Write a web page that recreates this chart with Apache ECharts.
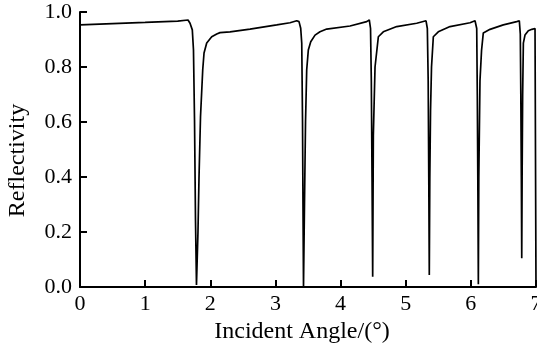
<!DOCTYPE html>
<html>
<head>
<meta charset="utf-8">
<script src="https://cdn.jsdelivr.net/npm/echarts@6/dist/echarts.min.js"></script>
<style>
  html, body { margin: 0; padding: 0; background: #fff; }
  #chart { width: 537px; height: 347px; }
</style>
</head>
<body>
<div id="chart"></div>
<script>
// incident angle (deg)
const angles = [
  0, 0.5, 1.0, 1.5, 1.658,
  1.689, 1.724, 1.742, 1.758, 1.773, 1.788, 1.811, 1.827, 1.850, 1.884, 1.904, 1.945, 2.022, 2.099, 2.149,
  2.303, 2.610, 3.020, 3.224, 3.327,
  3.362, 3.388, 3.404, 3.416, 3.423, 3.431, 3.446, 3.462, 3.480, 3.505, 3.542, 3.608, 3.684, 3.787,
  4.145, 4.401, 4.441,
  4.460, 4.472, 4.483, 4.493, 4.503, 4.529, 4.580, 4.656, 4.862, 5.169, 5.312,
  5.332, 5.345, 5.354, 5.362, 5.370, 5.381, 5.396, 5.424, 5.500, 5.680, 5.987, 6.064,
  6.090, 6.099, 6.108, 6.115, 6.122, 6.140, 6.164, 6.191, 6.294, 6.498, 6.704, 6.744,
  6.759, 6.767, 6.775, 6.781, 6.787, 6.795, 6.806, 6.831, 6.882, 6.937, 6.985, 7.0
];

const reflectivity = [
  0.953, 0.958, 0.962, 0.967, 0.971,
  0.959, 0.935, 0.862, 0.607, 0.244, 0.007, 0.20, 0.40, 0.62, 0.79, 0.851, 0.887, 0.910, 0.920, 0.925,
  0.928, 0.938, 0.953, 0.961, 0.968,
  0.965, 0.941, 0.887, 0.60, 0.30, 0.0, 0.30, 0.60, 0.789, 0.862, 0.892, 0.916, 0.928, 0.938,
  0.949, 0.965, 0.971,
  0.94, 0.75, 0.40, 0.037, 0.55, 0.80, 0.91, 0.928, 0.947, 0.959, 0.968,
  0.94, 0.75, 0.40, 0.044, 0.40, 0.64, 0.80, 0.91, 0.928, 0.947, 0.961, 0.968,
  0.94, 0.70, 0.35, 0.01, 0.40, 0.75, 0.86, 0.924, 0.937, 0.953, 0.965, 0.968,
  0.92, 0.70, 0.40, 0.105, 0.40, 0.70, 0.887, 0.916, 0.932, 0.937, 0.94, 0.0
];

const xTicks = [0, 1, 2, 3, 4, 5, 6, 7];
const yTicks = [0.0, 0.2, 0.4, 0.6, 0.8, 1.0];

const FONT = 'Liberation Serif';

function makeChart() {
  const chart = echarts.init(document.getElementById('chart'), null, { renderer: 'canvas' });

  const points = angles.map((a, i) => [a, reflectivity[i]]);

  const axisCommon = {
    axisLine: { show: true, lineStyle: { color: '#000', width: 2 } },
    axisTick: { show: true, inside: true, length: 7, lineStyle: { color: '#000', width: 2 } },
    splitLine: { show: false },
    axisLabel: { color: '#000', fontFamily: FONT, fontSize: 22, margin: 6 },
    nameTextStyle: { color: '#000', fontFamily: FONT, fontSize: 24 }
  };

  const option = {
    animation: false,
    backgroundColor: '#fff',
    grid: {
      left: 80, right: 1, top: 12, bottom: 60,
      containLabel: false,
      outerBoundsMode: 'none'
    },
    xAxis: Object.assign({}, axisCommon, {
      type: 'value',
      min: xTicks[0],
      max: xTicks[xTicks.length - 1],
      interval: 1,
      name: 'Incident Angle/(°)',
      nameLocation: 'middle',
      nameGap: 23,
      nameTextStyle: Object.assign({}, axisCommon.nameTextStyle, { padding: [0, 12, 0, 0] }),
      axisLabel: Object.assign({}, axisCommon.axisLabel, {
        showMaxLabel: true,
        formatter: v => String(v)
      })
    }),
    yAxis: Object.assign({}, axisCommon, {
      type: 'value',
      min: yTicks[0],
      max: yTicks[yTicks.length - 1],
      interval: 0.2,
      name: 'Reflectivity',
      nameLocation: 'middle',
      nameRotate: 90,
      nameGap: 50,
      nameTextStyle: Object.assign({}, axisCommon.nameTextStyle, { padding: [0, 22, 0, 0] }),
      axisLabel: Object.assign({}, axisCommon.axisLabel, {
        margin: 8,
        formatter: v => v.toFixed(1)
      })
    }),
    series: [{
      type: 'line',
      data: points,
      showSymbol: false,
      smooth: false,
      lineStyle: { color: '#000', width: 1.7 },
      clip: true
    }]
  };

  chart.setOption(option);
}

window.onload = makeChart;
</script>
</body>
</html>
